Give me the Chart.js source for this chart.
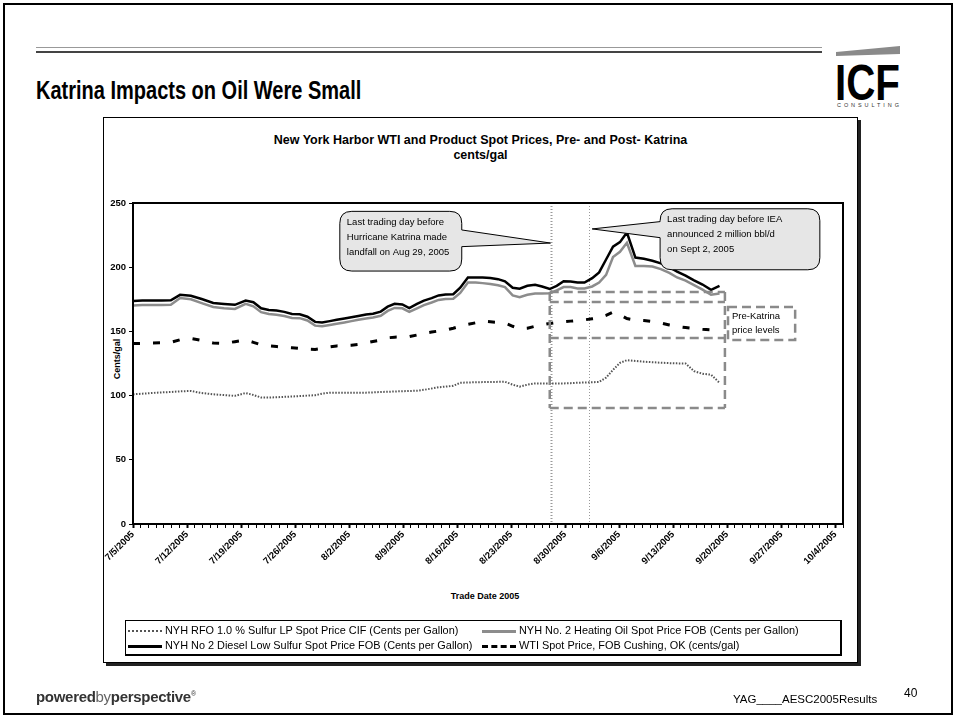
<!DOCTYPE html>
<html>
<head>
<meta charset="utf-8">
<script src="https://cdn.jsdelivr.net/npm/chart.js@4.4.0/dist/chart.umd.min.js"></script>
<style>
  html, body { margin: 0; padding: 0; background: #fff; }
  body { width: 960px; height: 721px; position: relative; overflow: hidden; font-family: "Liberation Sans", Arial, sans-serif; }
  #slide { position: absolute; left: 3px; top: 3px; width: 950px; height: 712px; border: 2px solid #000; box-sizing: border-box; }
  .rule { position: absolute; left: 36px; width: 786px; height: 0; }
  #rule1 { top: 47px; border-top: 1px solid #999; }
  #rule2 { top: 51px; border-top: 2px solid #444; }
  #title { position: absolute; left: 36px; top: 76px; font: bold 25px "Liberation Sans Narrow", sans-serif; color: #000; white-space: nowrap; transform: scaleX(0.8); transform-origin: 0 0; }
  #logo { position: absolute; left: 834px; top: 44px; width: 68px; height: 64px; }
  #logo .big { font-family: "Liberation Sans Narrow", "Liberation Sans", sans-serif; font-weight: bold; font-size: 50px; }
  #logo .small { font-family: "Liberation Sans", sans-serif; font-size: 5.5px; }
  #frame { position: absolute; left: 103px; top: 117px; width: 755px; height: 546px; border: 1px solid #000; box-shadow: 3px 3px 0 #222; box-sizing: border-box; }
  #ctitle { position: absolute; left: 103px; width: 755px; top: 133px; text-align: center; font: bold 12.5px "Liberation Sans", Arial, sans-serif; line-height: 15px; }
  #ytitle { position: absolute; left: 92px; top: 354px; width: 50px; text-align: center; transform: rotate(-90deg); font: bold 9px "Liberation Sans", Arial, sans-serif; }
  #xtitle { position: absolute; left: 405px; width: 160px; top: 591px; text-align: center; font: bold 9px "Liberation Sans", Arial, sans-serif; }
  #legend { position: absolute; left: 125px; top: 620px; width: 717px; height: 36px; border: 1px solid #000; border-right-width: 2px; border-bottom-width: 2px; box-sizing: border-box; font: 10.9px "Liberation Sans", Arial, sans-serif; }
  .li { position: absolute; white-space: nowrap; line-height: 13px; }
  .sw { display: inline-block; width: 34px; height: 0; vertical-align: middle; margin-right: 3px; }
  #footL { position: absolute; left: 36px; top: 688px; font: 15px "Liberation Sans", Arial, sans-serif; color: #333; letter-spacing: -0.3px; }
  #footR { position: absolute; left: 733px; top: 693px; font: 11.5px "Liberation Sans", Arial, sans-serif; color: #000; }
  #pnum { position: absolute; left: 904px; top: 686px; font: 12px "Liberation Sans", Arial, sans-serif; color: #000; }
  canvas#c { position: absolute; left: 0; top: 0; }
</style>
</head>
<body>
<div id="slide"></div>
<div class="rule" id="rule1"></div>
<div class="rule" id="rule2"></div>
<div id="title">Katrina Impacts on Oil Were Small</div>
<svg id="logo" viewBox="0 0 68 64">
  <polygon points="2,8 66,2 66,10 2,12" fill="#8a8a8a"/>
  <text class="big" x="1" y="56" textLength="65" lengthAdjust="spacingAndGlyphs">ICF</text>
  <text class="small" x="3" y="63" textLength="62" lengthAdjust="spacing" fill="#333">CONSULTING</text>
</svg>
<div id="frame"></div>
<div id="ctitle">New York Harbor WTI and Product Spot Prices, Pre- and Post- Katrina<br>cents/gal</div>
<div id="ytitle">Cents/gal</div>
<div id="xtitle">Trade Date 2005</div>
<canvas id="c" width="960" height="721"></canvas>
<div id="legend">
  <div class="li" style="left:2px;top:3px"><span class="sw" style="border-top:2px dotted #555"></span>NYH RFO 1.0 % Sulfur LP Spot Price CIF (Cents per Gallon)</div>
  <div class="li" style="left:356px;top:3px"><span class="sw" style="border-top:3px solid #8c8c8c"></span>NYH No. 2 Heating Oil Spot Price FOB (Cents per Gallon)</div>
  <div class="li" style="left:2px;top:18px"><span class="sw" style="border-top:3px solid #000"></span>NYH No 2 Diesel Low Sulfur Spot Price FOB (Cents per Gallon)</div>
  <div class="li" style="left:356px;top:18px"><span class="sw" style="border-top:3px dashed #000"></span>WTI Spot Price, FOB Cushing, OK (cents/gal)</div>
</div>
<div id="footL"><b>powered</b><span style="color:#666">by</span><b>perspective</b><sup style="font-size:7px">®</sup></div>
<div id="footR">YAG____AESC2005Results</div>
<div id="pnum">40</div>

<script>
// x position of each reading, in days after 7/5/2005
const xPos = [0,1.2,2.4,3.7,4.9,6.1,7.5,8.9,10.4,11.8,13.2,14.6,15.6,16.6,17.6,18.6,19.6,20.6,21.6,22.6,23.6,24.5,25.5,26.4,27.4,28.3,29.2,30.2,31.1,32.1,33,33.9,34.9,35.8,36.8,37.7,38.7,39.6,40.5,41.5,42.4,43.4,44.4,45.3,46.3,47.3,48.2,49.2,50.1,51.1,52.1,53,54,54.9,55.8,56.7,57.6,58.5,59.5,60.4,61.3,62.2,63.1,64,65.1,66.2,67.3,68.4,69.5,70.5,71.6,72.7,73.8,74.9,76];

const tickLabels = ["7/5/2005","7/12/2005","7/19/2005","7/26/2005","8/2/2005","8/9/2005","8/16/2005","8/23/2005","8/30/2005","9/6/2005","9/13/2005","9/20/2005","9/27/2005","10/4/2005"];

const rfo = [101,101.5,102,102.5,102.8,103.3,103.6,102,101,100.4,99.8,102,100.5,98.5,98.5,98.7,99,99.3,99.6,100,100.3,101.5,102.3,102.3,102.3,102.3,102.3,102.3,102.5,102.8,103,103.2,103.4,103.6,103.8,104.5,105.5,106.5,107,107.6,110,110.2,110.4,110.5,110.6,110.7,110.8,108.5,107,108.5,109.5,109.5,109.5,109.5,109.5,109.7,110,110.2,110.4,110.7,114,120,125.5,127.6,127,126.4,126,125.6,125.3,125.1,125,119,117,116.3,110];

const heatingOil = [170.2,170.5,170.5,170.5,170.7,176,175,172,169,168,167.5,171.5,169.5,165,163.5,163,162,160.5,160.3,158.5,154.5,154,155,156,157,158,159,160,160.8,162.2,166,168.3,168,165.2,168,170.5,172.5,174.5,175.2,175.5,180,188,188,187.6,187,186,184.5,178,176.7,178.5,179.5,179.5,179.7,182,184.5,184.5,183.5,183.5,185,188,194,208,212,219,201,201,200.5,198.5,195.5,192,189.5,186,182.5,178.5,179.5];

const diesel = [173.7,174,174,174,174.2,178.5,177.8,175.2,172.2,171.4,170.7,174,172.7,168,166.7,166.2,165.2,163.5,163.3,161.4,157.4,157,158,159,160,161,162,163.2,163.8,165.4,169.3,171.5,171,168.2,171.4,174,175.9,178,178.7,179,184,192,192,192,191.6,190.7,189,184,183.3,185.5,186.3,185,183,185.5,189,188.9,188,188,191.5,196,206,216,219.5,227,207.5,206.5,205,203,200,196.6,193.5,189.8,186.5,182.3,185.5];

const wti = [140.5,140.7,141,141.2,141.5,143.5,144.5,143,141,140.7,142,143.3,141.5,139.5,138.7,138.2,137.6,137.3,136.8,136.3,136,136.8,138,138.7,139,139.2,139.8,141,142.2,143.3,145,145.5,145.7,145.9,147.2,148.5,149.5,150.3,151,152.5,154,155.5,156.7,158,157.5,157,156.5,154,152,152.5,154,155.2,156.2,157,157.5,158,158.5,159,159.8,160.5,162.5,165,163,160,158.8,158.5,157.8,156.5,155,153.8,153,152.3,151.7,151.3,151];

// event markers (days)
const eventDays = [54.1, 59.1];

// callouts, in data units
const callouts = [
  { x1: 26.8, x2: 42.6, yTop: 243.5, yBot: 197, tip: [54.1, 218.8], base: [229, 216],
    lines: ["Last trading day before", "Hurricane Katrina made", "landfall on Aug 29, 2005"] },
  { x1: 68.3, x2: 89, yTop: 245.5, yBot: 198, tip: [59.5, 229.8], base: [235.5, 223],
    lines: ["Last trading day before IEA", "announced 2 million bbl/d", "on Sept 2, 2005"] }
];

// dashed "pre-Katrina" boxes, in data units
const boxX = [54.0, 76.7];
const boxLevels = [180.7, 172.9, 144.9, 90.3];
const labelBox = { x1: 77.1, x2: 85.8, yTop: 169, yBot: 143.3, lines: ["Pre-Katrina", "price levels"] };

const toXY = arr => xPos.map((d, i) => ({ x: d, y: arr[i] }));

const decor = {
  id: "decor",
  beforeDatasetsDraw(chart) {
    const { ctx, chartArea: a, scales: { x } } = chart;
    ctx.save();
    ctx.strokeStyle = "#999";
    ctx.setLineDash([1, 2]);
    eventDays.forEach((d, i) => {
      ctx.lineWidth = i === 0 ? 2 : 1;
      const px = Math.round(x.getPixelForValue(d)) + 0.5;
      ctx.beginPath(); ctx.moveTo(px, a.top); ctx.lineTo(px, a.bottom); ctx.stroke();
    });
    ctx.restore();
  },
  afterDatasetsDraw(chart) {
    const { ctx, chartArea: a, scales: { x, y } } = chart;
    ctx.save();
    // plot frame
    ctx.strokeStyle = "#000";
    ctx.lineWidth = 2;
    ctx.strokeRect(a.left, a.top, a.right - a.left, a.bottom - a.top);

    // dashed boxes
    ctx.strokeStyle = "#8a8a8a";
    ctx.lineWidth = 2.5;
    ctx.setLineDash([9, 5]);
    const bx1 = x.getPixelForValue(boxX[0]), bx2 = x.getPixelForValue(boxX[1]);
    boxLevels.forEach(v => {
      const py = y.getPixelForValue(v);
      ctx.beginPath(); ctx.moveTo(bx1, py); ctx.lineTo(bx2, py); ctx.stroke();
    });
    const yT = y.getPixelForValue(boxLevels[0]), yB = y.getPixelForValue(boxLevels[boxLevels.length - 1]);
    [bx1, bx2].forEach(px => { ctx.beginPath(); ctx.moveTo(px, yT); ctx.lineTo(px, yB); ctx.stroke(); });

    // label box
    const lx1 = x.getPixelForValue(labelBox.x1), lx2 = x.getPixelForValue(labelBox.x2);
    const ly1 = y.getPixelForValue(labelBox.yTop), ly2 = y.getPixelForValue(labelBox.yBot);
    ctx.fillStyle = "#fff";
    ctx.fillRect(lx1, ly1, lx2 - lx1, ly2 - ly1);
    ctx.strokeRect(lx1, ly1, lx2 - lx1, ly2 - ly1);
    ctx.setLineDash([]);
    ctx.fillStyle = "#000";
    ctx.font = "9.5px 'Liberation Sans', Arial, sans-serif";
    ctx.textBaseline = "middle";
    labelBox.lines.forEach((t, i) => ctx.fillText(t, lx1 + 4, ly1 + 9 + i * 14));

    // callouts
    callouts.forEach(c => {
      const x1 = x.getPixelForValue(c.x1), x2 = x.getPixelForValue(c.x2);
      const y1 = y.getPixelForValue(c.yTop), y2 = y.getPixelForValue(c.yBot);
      const tx = x.getPixelForValue(c.tip[0]), ty = y.getPixelForValue(c.tip[1]);
      const b1 = y.getPixelForValue(c.base[0]), b2 = y.getPixelForValue(c.base[1]);
      const r = 12;
      const tipRight = tx > x2;
      ctx.beginPath();
      ctx.moveTo(x1 + r, y1);
      ctx.lineTo(x2 - r, y1);
      ctx.quadraticCurveTo(x2, y1, x2, y1 + r);
      if (tipRight) { ctx.lineTo(x2, b1); ctx.lineTo(tx, ty); ctx.lineTo(x2, b2); }
      ctx.lineTo(x2, y2 - r);
      ctx.quadraticCurveTo(x2, y2, x2 - r, y2);
      ctx.lineTo(x1 + r, y2);
      ctx.quadraticCurveTo(x1, y2, x1, y2 - r);
      if (!tipRight) { ctx.lineTo(x1, b2); ctx.lineTo(tx, ty); ctx.lineTo(x1, b1); }
      ctx.lineTo(x1, y1 + r);
      ctx.quadraticCurveTo(x1, y1, x1 + r, y1);
      ctx.closePath();
      ctx.fillStyle = "#e6e6e6";
      ctx.fill();
      ctx.strokeStyle = "#000";
      ctx.lineWidth = 1;
      ctx.stroke();
      ctx.fillStyle = "#000";
      c.lines.forEach((t, i) => ctx.fillText(t, x1 + 7, y1 + 11 + i * 15));
    });
    ctx.restore();
  }
};

new Chart(document.getElementById("c"), {
  type: "line",
  data: {
    datasets: [
      { label: "NYH RFO 1.0 % Sulfur LP Spot Price CIF (Cents per Gallon)", data: toXY(rfo),
        borderColor: "#555", borderWidth: 2, borderDash: [1.5, 1.5] },
      { label: "NYH No. 2 Heating Oil Spot Price FOB (Cents per Gallon)", data: toXY(heatingOil),
        borderColor: "#8c8c8c", borderWidth: 2.5 },
      { label: "NYH No 2 Diesel Low Sulfur Spot Price FOB (Cents per Gallon)", data: toXY(diesel),
        borderColor: "#000", borderWidth: 2.5 },
      { label: "WTI Spot Price, FOB Cushing, OK (cents/gal)", data: toXY(wti),
        borderColor: "#000", borderWidth: 3, borderDash: [7, 13] }
    ]
  },
  options: {
    responsive: false,
    animation: false,
    events: [],
    elements: { point: { radius: 0 }, line: { tension: 0 } },
    layout: { padding: { left: 83, top: 203, right: 117, bottom: 137 } },
    plugins: { legend: { display: false }, tooltip: { enabled: false } },
    scales: {
      x: {
        type: "linear", min: 0, max: 92,
        afterFit: s => { s.height = 60; },
        border: { display: true, color: "#000", width: 2 },
        grid: { drawOnChartArea: false, tickLength: 4, tickColor: "#000",
                tickWidth: c => (c.tick && c.tick.value % 7 === 0 ? 2 : 1) },
        ticks: {
          stepSize: 1, autoSkip: false, maxRotation: 45, minRotation: 45, padding: 1,
          color: "#000", font: { family: "Liberation Sans", weight: "bold", size: 9.5 },
          callback: v => (v % 7 === 0 ? tickLabels[v / 7] : "")
        }
      },
      y: {
        min: 0, max: 250,
        afterFit: s => { s.width = 50; },
        border: { display: true, color: "#000", width: 2 },
        grid: { drawOnChartArea: false, tickLength: 4, tickColor: "#000" },
        ticks: { stepSize: 50, padding: 3, color: "#000",
                 font: { family: "Liberation Sans", weight: "bold", size: 9.5 } }
      }
    }
  },
  plugins: [decor]
});
</script>
</body>
</html>
